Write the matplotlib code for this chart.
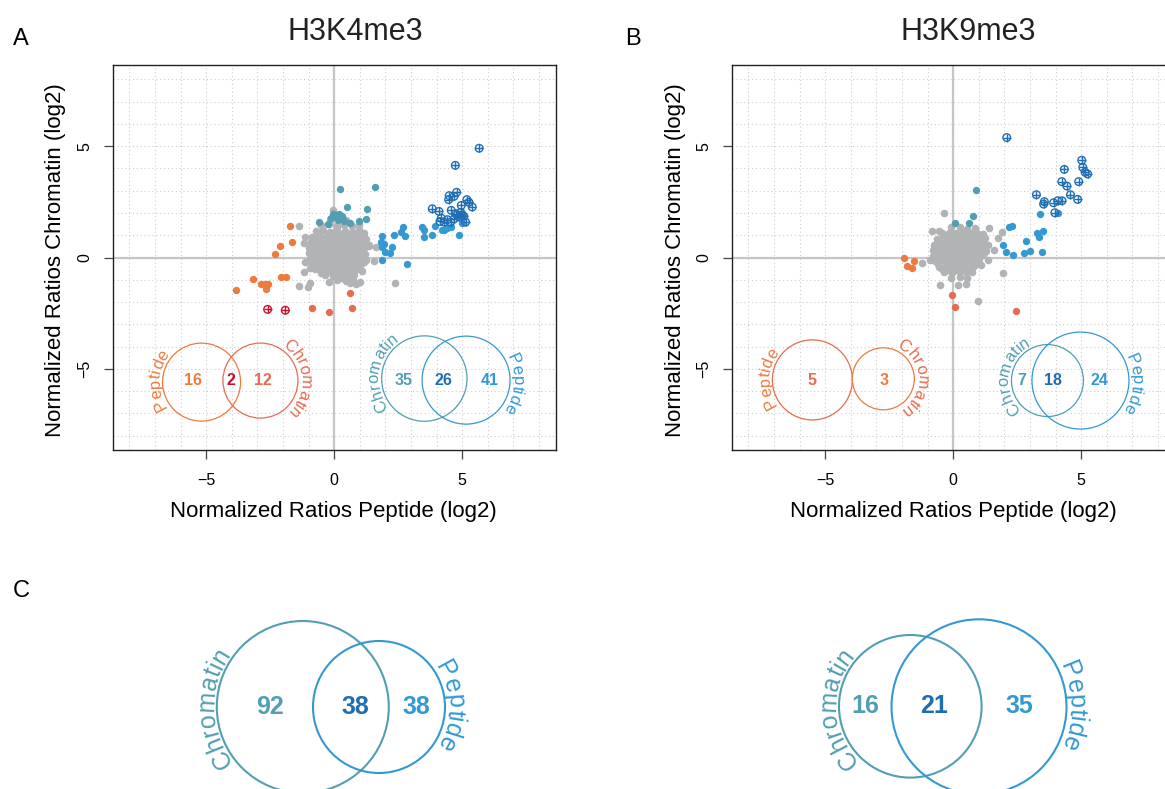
import numpy as np
import matplotlib.pyplot as plt
from matplotlib.patches import Ellipse
from matplotlib.font_manager import FontProperties, findfont
from matplotlib.ft2font import FT2Font

plt.rcParams['font.family'] = ['Liberation Sans', 'DejaVu Sans']

W, H = 1165, 789
fig = plt.figure(figsize=(W / 100, H / 100), dpi=100)

GREY = '#B1B3B5'
ORANGE = '#EE7A3E'
SALMON = '#E76B50'
CRIMSON = '#C8102E'
TEAL = '#519FB2'
BLUE = '#3399D3'
DBLUE = '#1F6EB3'

# ---------------- data: H3K4me3 (panel A) ----------------
a_grey = np.array([
    (-0.15, 1.72), (0.2, 1.75), (0.45, 1.68), (-0.03, 2.15), (-1.39, 1.40),
    (-0.5, 1.45), (-0.2, 1.5), (0.1, 1.42), (0.38, 1.48), (0.7, 1.4), (0.95, 1.46),
    (-0.72, 1.18), (-0.45, 1.22), (-0.15, 1.15), (0.12, 1.25), (0.42, 1.2), (0.68, 1.15), (0.95, 1.22), (1.18, 1.1),
    (-0.58, 1.06), (-0.3, 1.03), (0.0, 1.08), (0.28, 1.05), (0.55, 1.07), (0.82, 1.04), (1.08, 1.02),
    (-0.85, 0.92), (-0.6, 0.98), (-0.32, 0.9), (-0.05, 0.97), (0.25, 0.92), (0.52, 0.99), (0.8, 0.9), (1.05, 0.96), (1.25, 0.85),
    (-0.75, 0.8), (-0.45, 0.83), (-0.18, 0.78), (0.1, 0.82), (0.38, 0.79), (0.65, 0.84), (0.92, 0.78), (1.12, 0.8),
    (-0.92, 0.68), (-0.68, 0.72), (-0.4, 0.66), (-0.12, 0.73), (0.15, 0.67), (0.42, 0.72), (0.7, 0.66), (0.97, 0.72), (1.22, 0.65),
    (-0.85, 0.56), (-0.55, 0.58), (-0.27, 0.55), (0.02, 0.6), (0.3, 0.56), (0.57, 0.59), (0.85, 0.54), (1.1, 0.58),
    (-1.0, 0.42), (-0.75, 0.47), (-0.48, 0.41), (-0.2, 0.46), (0.07, 0.43), (0.35, 0.48), (0.62, 0.42), (0.9, 0.47), (1.15, 0.41), (1.35, 0.5),
    (-0.88, 0.3), (-0.6, 0.33), (-0.32, 0.29), (-0.05, 0.34), (0.23, 0.3), (0.5, 0.33), (0.78, 0.28), (1.05, 0.32),
    (-0.98, 0.18), (-0.72, 0.22), (-0.45, 0.17), (-0.18, 0.23), (0.1, 0.18), (0.38, 0.22), (0.65, 0.16), (0.92, 0.23), (1.2, 0.17),
    (-0.85, 0.06), (-0.57, 0.09), (-0.3, 0.05), (0.02, 0.08), (0.28, 0.04), (0.56, 0.09), (0.85, 0.05), (1.1, 0.07),
    (-0.95, -0.07), (-0.68, -0.02), (-0.4, -0.08), (-0.12, -0.03), (0.16, -0.06), (0.44, -0.02), (0.72, -0.08), (1.0, -0.03), (1.25, -0.1),
    (-0.8, -0.2), (-0.5, -0.17), (-0.22, -0.21), (0.05, -0.16), (0.33, -0.2), (0.6, -0.17), (0.88, -0.21), (1.15, -0.18),
    (-0.88, -0.32), (-0.6, -0.27), (-0.32, -0.33), (-0.05, -0.28), (0.22, -0.31), (0.5, -0.26), (0.78, -0.33), (1.05, -0.28),
    (-0.7, -0.43), (-0.42, -0.45), (-0.15, -0.41), (0.12, -0.44), (0.4, -0.42), (0.68, -0.46), (0.95, -0.41),
    (-0.75, -0.53), (-0.48, -0.58), (-0.2, -0.52), (0.08, -0.57), (0.35, -0.53), (0.62, -0.58), (0.9, -0.52), (1.1, -0.6),
    (-0.35, -0.68), (-0.08, -0.7), (0.2, -0.67), (0.48, -0.71), (0.75, -0.67),
    (-0.35, -0.78), (-0.05, -0.83), (0.22, -0.79), (0.5, -0.84), (0.78, -0.8),
    (0.12, -1.02), (0.45, -1.05), (0.72, -1.0), (0.3, -0.93), (0.6, -1.15), (0.85, -1.2),
    (-1.13, 0.90), (-1.17, 0.65), (-1.13, -0.18), (-1.19, -0.63), (-0.94, -0.48), (-1.36, -1.28),
    (-1.04, -1.31), (-0.94, -1.13), (-0.52, -0.71), (-0.19, -1.11), (1.01, -1.08), (2.38, -1.14),
    (1.56, -0.15), (1.34, 0.57), (1.62, 0.47), (0.39, -0.93), (0.65, -0.83),
])
a_orange = np.array([
    (-1.74, 1.40), (-1.64, 0.69), (-2.10, 0.53), (-2.30, 0.17), (-3.17, -0.98), (-2.86, -1.19),
    (-2.70, -1.19), (-2.60, -1.19), (-2.65, -1.40), (-3.82, -1.47), (-2.08, -0.87), (-1.87, -0.87),
])
a_salmon = np.array([(0.62, -1.61), (-0.87, -2.27), (-0.19, -2.46), (0.71, -2.25)])
a_crimson = np.array([(-2.60, -2.33), (-1.91, -2.37)])
a_teal = np.array([
    (0.23, 3.09), (1.60, 3.18), (0.49, 2.27), (1.30, 2.18), (1.25, 1.73), (0.96, 1.62),
    (-0.61, 1.59), (-0.25, 1.52), (0.06, 1.92), (0.19, 1.97), (0.32, 1.85), (0.13, 1.70),
    (0.26, 1.73), (0.39, 1.62), (0.62, 1.55), (-0.13, 1.77), (-0.03, 1.97),
])
a_blue = np.array([
    (1.88, 0.95), (1.82, 0.68), (1.95, 0.62), (1.86, 0.47), (2.27, 0.47), (1.97, 0.23),
    (2.18, 0.20), (1.86, -0.09), (2.83, -0.27), (2.34, 1.01), (2.60, 1.14), (2.70, 1.35),
    (2.77, 0.95), (3.44, 1.35), (3.51, 1.22), (3.51, 0.92), (3.81, 1.01), (3.92, 1.40),
    (4.22, 1.22), (4.29, 1.25), (4.42, 1.32), (4.57, 1.37), (4.87, 0.99), (5.00, 1.55),
])
a_dblue = np.array([
    (5.66, 4.91), (4.73, 4.14), (4.78, 2.93), (4.49, 2.78), (4.68, 2.75), (4.47, 2.60),
    (5.18, 2.60), (5.26, 2.48), (4.96, 2.34), (5.39, 2.27), (3.83, 2.19), (4.09, 2.07),
    (4.57, 2.12), (4.94, 2.03), (4.81, 1.92), (4.18, 1.77), (4.42, 1.70), (4.29, 1.59),
    (4.55, 1.59), (4.68, 1.73), (4.87, 1.82), (5.13, 1.59), (5.00, 1.92), (4.13, 1.62),
    (4.74, 1.97), (5.06, 1.85),
])
a_down_counts = [16, 2, 12]
a_up_counts = [35, 26, 41]

# ---------------- data: H3K9me3 (panel B) ----------------
b_grey = np.array([
    (-0.1, 1.35), (0.25, 1.38), (0.55, 1.3), (0.85, 1.33),
    (-0.45, 1.1), (-0.18, 1.12), (0.1, 1.08), (0.38, 1.13), (0.65, 1.07), (0.92, 1.1), (1.15, 1.05),
    (-0.3, 0.97), (-0.02, 0.99), (0.25, 0.96), (0.52, 0.98), (0.8, 0.95), (1.05, 0.97),
    (-0.65, 0.83), (-0.38, 0.88), (-0.1, 0.82), (0.18, 0.87), (0.45, 0.84), (0.72, 0.88), (1.0, 0.82), (1.25, 0.86),
    (-0.6, 0.71), (-0.32, 0.74), (-0.05, 0.7), (0.22, 0.74), (0.5, 0.71), (0.77, 0.74), (1.05, 0.7),
    (-0.75, 0.58), (-0.48, 0.62), (-0.2, 0.57), (0.08, 0.63), (0.35, 0.58), (0.62, 0.62), (0.9, 0.56), (1.15, 0.62), (1.35, 0.55),
    (-0.65, 0.46), (-0.38, 0.49), (-0.1, 0.45), (0.18, 0.49), (0.45, 0.45), (0.72, 0.5), (1.0, 0.45), (1.22, 0.48),
    (-0.8, 0.33), (-0.55, 0.37), (-0.28, 0.32), (0.0, 0.38), (0.27, 0.33), (0.55, 0.37), (0.82, 0.31), (1.08, 0.37), (1.3, 0.3),
    (-0.68, 0.2), (-0.4, 0.23), (-0.12, 0.2), (0.15, 0.24), (0.42, 0.2), (0.7, 0.23), (0.98, 0.19), (1.2, 0.22),
    (-0.78, 0.08), (-0.5, 0.12), (-0.22, 0.07), (0.05, 0.13), (0.32, 0.08), (0.6, 0.12), (0.88, 0.06), (1.12, 0.12),
    (-0.6, -0.03), (-0.32, -0.01), (-0.05, -0.04), (0.22, 0.0), (0.5, -0.03), (0.78, 0.0), (1.02, -0.05),
    (-0.7, -0.17), (-0.42, -0.12), (-0.15, -0.18), (0.12, -0.13), (0.4, -0.17), (0.68, -0.12), (0.95, -0.18),
    (-0.6, -0.29), (-0.3, -0.27), (-0.02, -0.3), (0.25, -0.26), (0.52, -0.3), (0.8, -0.27),
    (-0.55, -0.42), (-0.28, -0.37), (0.0, -0.43), (0.27, -0.38), (0.55, -0.42), (0.82, -0.37),
    (-0.45, -0.53), (-0.15, -0.55), (0.12, -0.52), (0.4, -0.56), (0.66, -0.52),
    (-0.35, -0.63), (-0.05, -0.68), (0.22, -0.62), (0.5, -0.67), (0.72, -0.63),
    (-0.1, -0.9), (0.25, -0.87), (0.55, -0.9),
    (-0.37, 1.98), (-0.82, 1.20), (-0.54, 1.20), (1.40, 1.34), (1.91, 1.14), (1.73, 0.86),
    (1.36, -0.09), (1.10, -0.33), (1.96, -0.69), (-0.50, -1.25), (0.20, -1.23), (0.50, -1.20),
    (0.97, -1.94), (-1.22, -0.23), (-0.92, -0.12), (0.75, 1.08), (1.0, 1.0), (1.59, 0.33),
])
b_orange = np.array([(-1.91, -0.03), (-1.54, -0.15), (-1.80, -0.39), (-1.61, -0.45)])
b_salmon = np.array([(-0.04, -1.67), (0.08, -2.21), (2.44, -2.42)])
b_crimson = np.empty((0, 2))
b_teal = np.array([(0.89, 3.02), (0.78, 1.88), (0.08, 1.53), (0.60, 1.53)])
b_blue = np.array([
    (2.18, 1.35), (2.31, 1.43), (1.95, 0.56), (2.05, 0.26), (2.35, 0.09), (2.84, 0.74),
    (2.78, 0.21), (3.00, 0.29), (3.48, 0.24), (3.29, 1.11), (3.49, 1.20), (3.36, 0.90),
    (3.40, 1.94), (4.10, 2.01),
])
b_dblue = np.array([
    (2.09, 5.39), (5.02, 4.37), (5.06, 4.05), (5.15, 3.83), (5.25, 3.75), (4.34, 3.96),
    (4.24, 3.41), (4.44, 3.21), (4.90, 3.41), (3.25, 2.82), (3.56, 2.51), (3.53, 2.40),
    (3.92, 2.46), (4.08, 2.55), (4.25, 2.55), (4.58, 2.82), (4.86, 2.61), (3.97, 2.01),
])
b_down_counts = [5, 3]
b_up_counts = [7, 18, 24]

# ---------------- data: overlaps (panel C) ----------------
c_left_counts = [92, 38, 38]
c_right_counts = [16, 21, 35]

XL = (-8.65, 8.65)
YL = (-8.65, 8.65)
AX_W, AX_H = 443, 385
SX = AX_W / (XL[1] - XL[0])
SY = AX_H / (YL[1] - YL[0])

FONT = FT2Font(findfont(FontProperties(family='Liberation Sans')))


def advances(s, size):
    # horizontal advance of every letter, in pixels at 100 dpi
    FONT.set_size(size, 100)
    return [FONT.load_char(ord(ch)).linearHoriAdvance / 65536 for ch in s]


def arc_text(ax, s, cx, cy, r, ang, sx, sy, size, color):
    # letters placed clockwise round a circle, tops facing outward
    adv = advances(s, size)
    total = sum(adv)
    rt = r + 3
    pos = 0.0
    for ch, a in zip(s, adv):
        mid = pos + a / 2
        pos += a
        th = np.radians(ang) + (total / 2 - mid) / rt
        ax.text(cx + rt * np.cos(th) / sx, cy + rt * np.sin(th) / sy, ch,
                rotation=np.degrees(th) - 90, rotation_mode='anchor',
                ha='center', va='baseline', fontsize=size, color=color, zorder=6)


def circle(ax, cx, cy, r, sx, sy, color, lw):
    ax.add_patch(Ellipse((cx, cy), 2 * r / sx, 2 * r / sy, fill=False,
                         edgecolor=color, lw=lw, zorder=5))


def scatter_panel(left_px, grey, orange, salmon, crimson, teal, blue, dblue):
    ax = fig.add_axes([left_px / W, (H - 450) / H, AX_W / W, AX_H / H])
    ax.set_xlim(XL)
    ax.set_ylim(YL)
    for v in range(-8, 9):
        ax.axvline(v, color='#CDCDCD', lw=0.8, ls=(0, (1, 2.5)), zorder=0)
        ax.axhline(v, color='#CDCDCD', lw=0.8, ls=(0, (1, 2.5)), zorder=0)
    ax.axvline(0, color='#C6C6C6', lw=1.6, zorder=0.5)
    ax.axhline(0, color='#C6C6C6', lw=1.6, zorder=0.5)
    ax.scatter(grey[:, 0], grey[:, 1], s=30, c=GREY, lw=0, zorder=2)
    for pts, col in [(orange, ORANGE), (salmon, SALMON), (teal, TEAL), (blue, BLUE)]:
        ax.scatter(pts[:, 0], pts[:, 1], s=28, c=col, lw=0, zorder=3)
    for pts, col in [(crimson, CRIMSON), (dblue, DBLUE)]:
        if len(pts):
            ax.scatter(pts[:, 0], pts[:, 1], s=30, facecolors='none', edgecolors=col, lw=1.0, zorder=4)
            ax.scatter(pts[:, 0], pts[:, 1], s=30, marker='+', c=col, lw=1.0, zorder=4)
    ax.set_xticks([-5, 0, 5])
    ax.set_xticklabels(['\u22125', '0', '5'])
    ax.set_yticks([-5, 0, 5])
    ax.set_yticklabels(['\u22125', '0', '5'], rotation=90, va='center')
    ax.tick_params(length=6.5, width=0.9, color='#444444', labelsize=11.5)
    ax.tick_params(axis='x', pad=10)
    ax.tick_params(axis='y', pad=8)
    for sp in ax.spines.values():
        sp.set_linewidth(1.0)
        sp.set_color('#222222')
    return ax


def fx(px):
    return px / W


def fy(py):
    return 1 - py / H


# ---------------- panel A ----------------
axA = scatter_panel(112.7, a_grey, a_orange, a_salmon, a_crimson, a_teal, a_blue, a_dblue)
circle(axA, -5.18, -5.6, 39, SX, SY, ORANGE, 0.9)
circle(axA, -2.88, -5.53, 37.5, SX, SY, SALMON, 0.9)
arc_text(axA, 'Peptide', -5.18, -5.6, 39, 177, SX, SY, 12, ORANGE)
arc_text(axA, 'Chromatin', -2.88, -5.53, 37.5, 4, SX, SY, 12, SALMON)
for xv, n, col in zip([-5.5, -4.05, -2.77], a_down_counts, [ORANGE, CRIMSON, SALMON]):
    axA.text(xv, -5.53, str(n), ha='center', va='center', fontsize=11.5, fontweight='bold', color=col, zorder=6)
circle(axA, 3.52, -5.44, 42.7, SX, SY, TEAL, 0.9)
circle(axA, 5.15, -5.51, 44, SX, SY, BLUE, 0.9)
arc_text(axA, 'Chromatin', 3.52, -5.44, 42.7, 171, SX, SY, 12, TEAL)
arc_text(axA, 'Peptide', 5.15, -5.51, 44, -4, SX, SY, 12, BLUE)
for xv, n, col in zip([2.72, 4.28, 6.08], a_up_counts, [TEAL, DBLUE, BLUE]):
    axA.text(xv, -5.53, str(n), ha='center', va='center', fontsize=11.5, fontweight='bold', color=col, zorder=6)

# ---------------- panel B ----------------
axB = scatter_panel(731.7, b_grey, b_orange, b_salmon, b_crimson, b_teal, b_blue, b_dblue)
circle(axB, -5.5, -5.5, 40, SX, SY, SALMON, 0.9)
circle(axB, -2.73, -5.45, 31, SX, SY, ORANGE, 0.9)
arc_text(axB, 'Peptide', -5.5, -5.5, 40, 178, SX, SY, 12, ORANGE)
arc_text(axB, 'Chromatin', -2.73, -5.45, 31, 3, SX, SY, 12, SALMON)
for xv, n, col in zip([-5.53, -2.71], b_down_counts, [SALMON, ORANGE]):
    axB.text(xv, -5.53, str(n), ha='center', va='center', fontsize=11.5, fontweight='bold', color=col, zorder=6)
circle(axB, 3.68, -5.53, 36, SX, SY, TEAL, 0.9)
circle(axB, 4.97, -5.53, 48.5, SX, SY, BLUE, 0.9)
arc_text(axB, 'Chromatin', 3.68, -5.53, 36, 171, SX, SY, 12, TEAL)
arc_text(axB, 'Peptide', 4.97, -5.53, 48.5, -3, SX, SY, 12, BLUE)
for xv, n, col in zip([2.67, 3.88, 5.70], b_up_counts, [TEAL, DBLUE, BLUE]):
    axB.text(xv, -5.53, str(n), ha='center', va='center', fontsize=11.5, fontweight='bold', color=col, zorder=6)

# ---------------- labels ----------------
for x0 in [333.7, 953.3]:
    fig.text(fx(x0), fy(512), 'Normalized Ratios Peptide (log2)', ha='center', va='center', fontsize=16)
for x0 in [55, 675]:
    fig.text(fx(x0), fy(260), 'Normalized Ratios Chromatin (log2)', ha='center', va='center',
             rotation=90, fontsize=16)
fig.text(fx(355.7), fy(40), 'H3K4me3', ha='center', va='baseline', fontsize=22, color='#222222')
fig.text(fx(968.3), fy(40), 'H3K9me3', ha='center', va='baseline', fontsize=22, color='#222222')
fig.text(fx(13), fy(45), 'A', ha='left', va='baseline', fontsize=17)
fig.text(fx(625), fy(45), 'B', ha='left', va='baseline', fontsize=17)
fig.text(fx(13), fy(597), 'C', ha='left', va='baseline', fontsize=17)

# ---------------- panel C (pixel space overlay) ----------------
axC = fig.add_axes([0, 0, 1, 1])
axC.set_xlim(0, W)
axC.set_ylim(0, H)
axC.axis('off')
axC.patch.set_alpha(0)


def py(v):
    return H - v


circle(axC, 302.8, py(707), 86, 1, 1, TEAL, 1.5)
circle(axC, 379, py(707), 66, 1, 1, BLUE, 1.5)
arc_text(axC, 'Chromatin', 302.8, py(707), 86, 181, 1, 1, 18, TEAL)
arc_text(axC, 'Peptide', 379, py(707), 66, 0.5, 1, 1, 18, BLUE)
for xv, n, col in zip([270, 355, 416.7], c_left_counts, [TEAL, DBLUE, BLUE]):
    axC.text(xv, py(707), str(n), ha='center', va='center', fontsize=18, fontweight='bold', color=col)

circle(axC, 910.3, py(706.3), 71.3, 1, 1, TEAL, 1.5)
circle(axC, 979, py(706.8), 87.5, 1, 1, BLUE, 1.5)
arc_text(axC, 'Chromatin', 910.3, py(706.3), 71.3, 182, 1, 1, 18, TEAL)
arc_text(axC, 'Peptide', 979, py(706.8), 87.5, 0.5, 1, 1, 18, BLUE)
for xv, n, col in zip([865, 934.3, 1019.3], c_right_counts, [TEAL, DBLUE, BLUE]):
    axC.text(xv, py(706), str(n), ha='center', va='center', fontsize=18, fontweight='bold', color=col)

fig.savefig('out.png', dpi=100)
